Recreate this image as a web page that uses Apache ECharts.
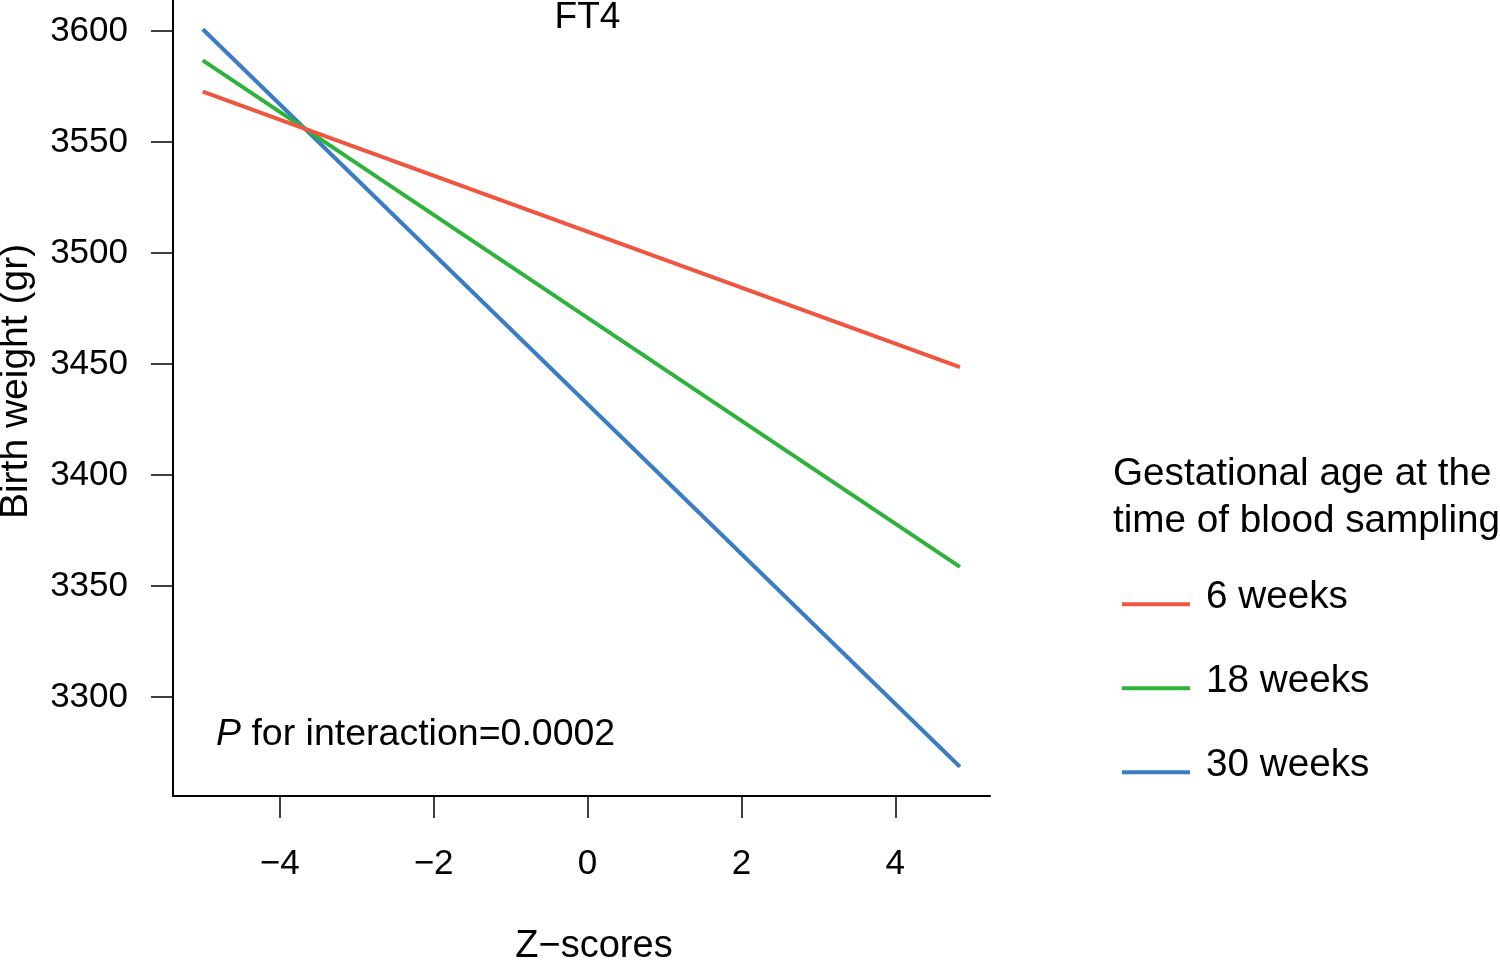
<!DOCTYPE html>
<html>
<head>
<meta charset="utf-8">
<script src="https://cdn.jsdelivr.net/npm/echarts@6/dist/echarts.min.js"></script>
<style>
html,body{margin:0;padding:0;background:#fff;}
#chart{width:1500px;height:962px;}
</style>
</head>
<body>
<div id="chart"></div>
<script>
// Data
var zScores = [-5, 4.84];
var seriesNames = ['6 weeks', '18 weeks', '30 weeks'];
var weeks6 = [3572.7, 3448.6];
var weeks18 = [3586.8, 3358.6];
var weeks30 = [3600.8, 3268.6];
var xTicks = [-4, -2, 0, 2, 4];
var yTicks = [3300, 3350, 3400, 3450, 3500, 3550, 3600];
var colors = ['#F0553F', '#2DB23A', '#3B7DC4'];
var titleText = 'FT4';
var xName = 'Z\u2212scores';
var yName = 'Birth weight (gr)';
var legendTitle = ['Gestational age at the', 'time of blood sampling'];
var pText = 'for interaction=0.0002';

var FONT = "'Liberation Sans', Arial, Helvetica, sans-serif";
var chart = echarts.init(document.getElementById('chart'), null, {renderer: 'canvas'});

function pairs(xs, ys) { return xs.map(function (x, i) { return [x, ys[i]]; }); }
var allSeries = [weeks6, weeks18, weeks30];

var graphics = [];
// y axis name
graphics.push({type: 'text', x: 16, y: 381.5, rotation: Math.PI / 2,
  style: {text: yName, font: '39px ' + FONT, fill: '#000', align: 'center', verticalAlign: 'middle'}});
// x axis name
graphics.push({type: 'text', x: 594, y: 947,
  style: {text: xName, font: '38px ' + FONT, fill: '#000', align: 'center', verticalAlign: 'middle'}});
// P annotation
graphics.push({type: 'text', x: 216, y: 735,
  style: {text: '{i|P} ' + pText, fontFamily: FONT, fontSize: 37.5, fill: '#000', align: 'left', verticalAlign: 'middle',
    rich: {i: {fontStyle: 'italic', fontFamily: FONT, fontSize: 37.5, fill: '#000'}}}});
// legend title
legendTitle.forEach(function (t, i) {
  graphics.push({type: 'text', x: 1113, y: 474 + i * 47,
    style: {text: t, font: '38.7px ' + FONT, fill: '#000', align: 'left', verticalAlign: 'middle'}});
});
// legend items
seriesNames.forEach(function (n, i) {
  var ly = 604.3 + i * 84;
  graphics.push({type: 'line', shape: {x1: 1122, y1: ly, x2: 1190, y2: ly},
    style: {stroke: colors[i], lineWidth: 4}});
  graphics.push({type: 'text', x: 1206, y: ly - 7,
    style: {text: n, font: '38.7px ' + FONT, fill: '#000', align: 'left', verticalAlign: 'middle'}});
});

var option = {
  animation: false,
  backgroundColor: '#fff',
  title: {text: titleText, left: 587.5, top: -1, padding: 0, textAlign: 'center',
    textStyle: {fontFamily: FONT, fontSize: 37, fontWeight: 'normal', color: '#000'}},
  grid: {left: 173, right: 510, top: 0, bottom: 166, containLabel: false},
  xAxis: {
    type: 'value', min: -5.387, max: 5.231,
    splitLine: {show: false},
    axisLine: {show: true, onZero: false, lineStyle: {color: '#000', width: 2}},
    axisTick: {show: true, length: 22, customValues: xTicks, lineStyle: {color: '#000', width: 1.5}},
    axisLabel: {show: true, customValues: xTicks, margin: 51, fontFamily: FONT, fontSize: 35, color: '#000',
      formatter: function (v) { return v < 0 ? '\u2212' + Math.abs(v) : String(v); }}
  },
  yAxis: {
    type: 'value', min: 3255.4, max: 3614,
    splitLine: {show: false},
    axisLine: {show: true, onZero: false, lineStyle: {color: '#000', width: 2}},
    axisTick: {show: true, length: 22, customValues: yTicks, lineStyle: {color: '#000', width: 1.5}},
    axisLabel: {show: true, customValues: yTicks, margin: 45, fontFamily: FONT, fontSize: 35, color: '#000',
      formatter: function (v) { return String(v); }}
  },
  series: seriesNames.map(function (n, i) {
    return {name: n, type: 'line', data: pairs(zScores, allSeries[i]), showSymbol: false, symbol: 'none',
      lineStyle: {color: colors[i], width: 4}, itemStyle: {color: colors[i]}, z: 3 - i};
  }),
  graphic: graphics
};
chart.setOption(option);
</script>
</body>
</html>
